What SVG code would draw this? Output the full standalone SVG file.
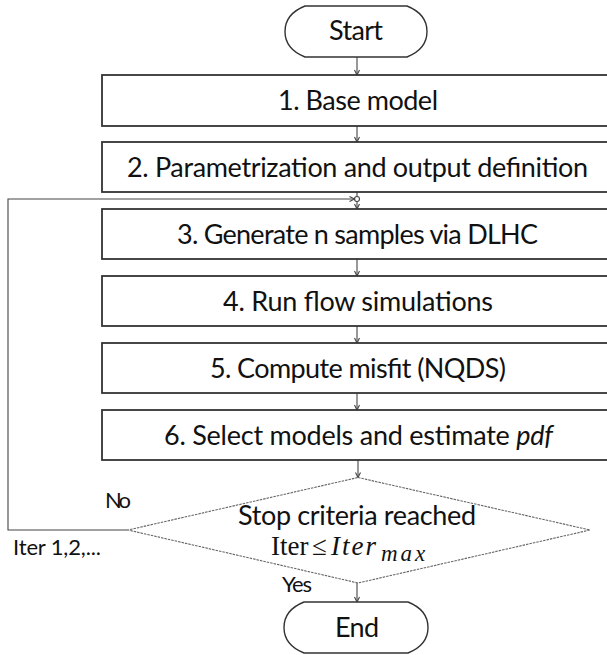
<svg xmlns="http://www.w3.org/2000/svg" width="607" height="655" viewBox="0 0 607 655">
<style>
  .box { fill: #ffffff; stroke: #333333; stroke-width: 1.8; }
  .term { fill: #ffffff; stroke: #333333; stroke-width: 1.4; }
  .dia { fill: #ffffff; stroke: #666666; stroke-width: 1.1; stroke-dasharray: 2.5 1; }
  .conn { fill: none; stroke: #444444; stroke-width: 1.1; }
  .t { font-family: Lato, "Liberation Sans", sans-serif; font-size: 27px; fill: #111111; text-anchor: middle; }
  .lbl { font-family: Lato, "Liberation Sans", sans-serif; font-size: 22px; fill: #111111; }
  .m { font-family: "Liberation Serif", "DejaVu Serif", serif; font-size: 27px; fill: #111111; }
</style>
<defs>
  <marker id="arr" markerWidth="8" markerHeight="8" refX="6" refY="4" orient="auto" markerUnits="userSpaceOnUse">
    <path d="M1,1.5 L6,4 L1,6.5" fill="none" stroke="#444444" stroke-width="1.1"/>
  </marker>
</defs>

<g id="connectors">
  <line class="conn" x1="357" y1="57" x2="357" y2="75" marker-end="url(#arr)"/>
  <line class="conn" x1="357" y1="126" x2="357" y2="142" marker-end="url(#arr)"/>
  <line class="conn" x1="357" y1="192" x2="357" y2="196.5"/>
  <line class="conn" x1="357" y1="201.5" x2="357" y2="209" marker-end="url(#arr)"/>
  <circle class="conn" cx="357" cy="199" r="2.5"/>
  <line class="conn" x1="357" y1="259" x2="357" y2="276" marker-end="url(#arr)"/>
  <line class="conn" x1="357" y1="326" x2="357" y2="343" marker-end="url(#arr)"/>
  <line class="conn" x1="357" y1="393" x2="357" y2="410" marker-end="url(#arr)"/>
  <line class="conn" x1="358" y1="460" x2="358" y2="477.5" marker-end="url(#arr)"/>
  <line class="conn" x1="357" y1="583" x2="357" y2="602" marker-end="url(#arr)"/>
  <path class="conn" d="M128,530 H8 V199 H354.5" marker-end="url(#arr)"/>
  <text class="lbl" x="105" y="508" textLength="26">No</text>
  <text class="lbl" x="13" y="555" textLength="88">Iter 1,2,...</text>
  <text class="lbl" x="282" y="592" textLength="30">Yes</text>
</g>

<g id="start">
  <path class="term" d="M305,6 H407 Q427,14 427,31.5 Q427,49 407,57 H305 Q285,49 285,31.5 Q285,14 305,6 Z"/>
  <text class="t" x="356" y="40" textLength="54">Start</text>
</g>

<g id="step1">
  <rect class="box" x="102" y="75" width="514" height="51"/>
  <text class="t" x="358" y="110" textLength="160">1. Base model</text>
</g>

<g id="step2">
  <rect class="box" x="102" y="142" width="514" height="50"/>
  <text class="t" x="357.5" y="176.5" textLength="461">2. Parametrization and output definition</text>
</g>

<g id="step3">
  <rect class="box" x="102" y="209" width="514" height="50"/>
  <text class="t" x="357.5" y="243.5" textLength="361">3. Generate n samples via DLHC</text>
</g>

<g id="step4">
  <rect class="box" x="102" y="276" width="514" height="50"/>
  <text class="t" x="358" y="310.5" textLength="270">4. Run flow simulations</text>
</g>

<g id="step5">
  <rect class="box" x="102" y="343" width="514" height="50"/>
  <text class="t" x="358" y="377.5" textLength="296">5. Compute misfit (NQDS)</text>
</g>

<g id="step6">
  <rect class="box" x="102" y="410" width="514" height="50"/>
  <text class="t" x="358.5" y="444.5" textLength="389">6. Select models and estimate <tspan font-style="italic">pdf</tspan></text>
</g>

<g id="decision">
  <polygon class="dia" points="358,477.5 590,530 358,583 128,530"/>
  <text class="t" x="357" y="525" textLength="238">Stop criteria reached</text>
  <text class="m" y="555"><tspan x="271">Iter</tspan><tspan x="312">≤</tspan><tspan x="331" font-style="italic" letter-spacing="2">Iter</tspan><tspan x="381" y="561" font-style="italic" font-size="23" letter-spacing="3">max</tspan></text>
</g>

<g id="end">
  <path class="term" d="M304,602 H408 Q428,610 428,627.5 Q428,645 408,653 H304 Q284,645 284,627.5 Q284,610 304,602 Z"/>
  <text class="t" x="357" y="637" textLength="44">End</text>
</g>
</svg>
